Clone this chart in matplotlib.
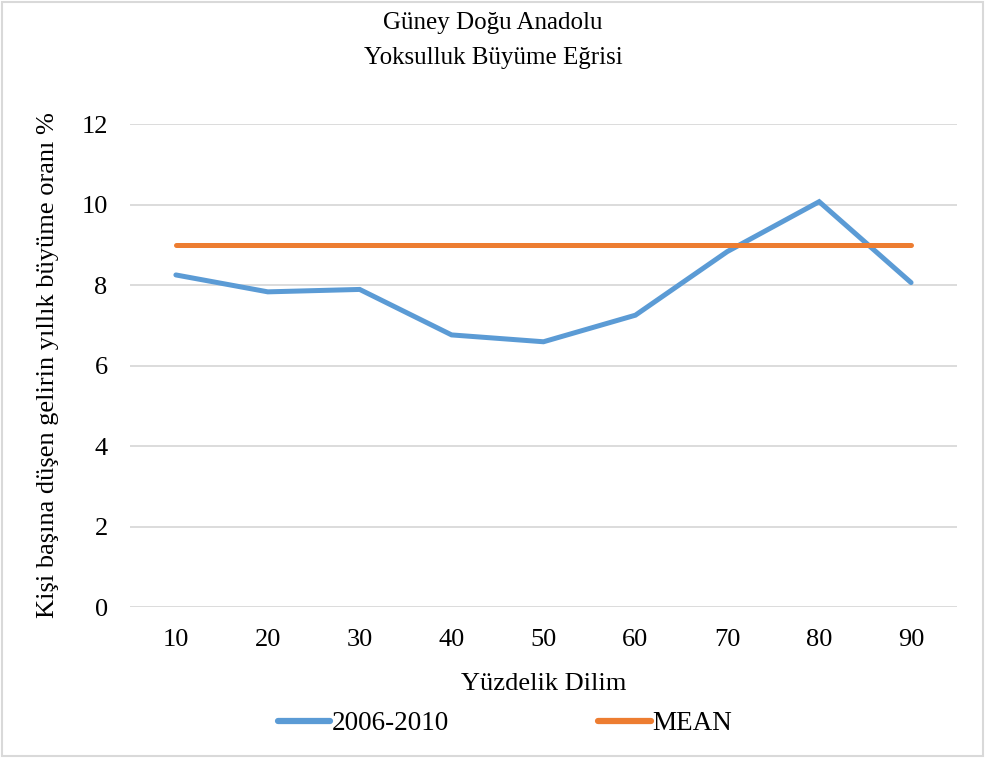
import numpy as np
import matplotlib
matplotlib.use('Agg')
import matplotlib.pyplot as plt
from matplotlib.patches import Rectangle

plt.rcParams['font.family'] = ['Liberation Serif', 'DejaVu Serif']

# veriler
dilim = [10, 20, 30, 40, 50, 60, 70, 80, 90]
buyume = [8.25, 7.83, 7.89, 6.76, 6.59, 7.25, 8.83, 10.07, 8.06]
ortalama = [9.0] * len(dilim)

fig = plt.figure(figsize=(9.86, 7.58), dpi=100)
ax = fig.add_axes([0.1318, 0.1992, 0.8388, 0.6372])

ax.plot(dilim, buyume, color='#5B9BD5', linewidth=3.6, solid_capstyle='round',
        solid_joinstyle='miter', label='2006-2010', zorder=3)
ax.plot(dilim, ortalama, color='#ED7D31', linewidth=3.6, solid_capstyle='round',
        label='MEAN', zorder=3)

ax.set_xlim(5, 95)
ax.set_ylim(0, 12)
ax.set_xticks(dilim)
ax.set_yticks(np.arange(0, 13, 2))
ax.tick_params(axis='both', length=0, labelsize=19, colors='black')
ax.tick_params(axis='x', pad=16)
ax.tick_params(axis='y', pad=16)
ax.grid(axis='y', color='#D9D9D9', linewidth=1.3)
ax.set_axisbelow(True)
for s in ax.spines.values():
    s.set_visible(False)

ax.set_xlabel('Yüzdelik Dilim', fontsize=19, labelpad=16)
ax.set_ylabel('Kişi başına düşen gelirin yıllık büyüme oranı %', fontsize=19, labelpad=16)
fig.text(0.5, 0.984, 'Güney Doğu Anadolu\nYoksulluk Büyüme Eğrisi', ha='center', va='top',
         fontsize=18, linespacing=1.75)

leg = fig.legend(loc='center', bbox_to_anchor=(0.512, 0.045), ncol=2, frameon=False,
                 fontsize=19.5, handlelength=1.95, handletextpad=0.05, columnspacing=5.5)
for h in leg.legend_handles:
    h.set_linewidth(4.5)

# dış çerçeve
fig.patches.append(Rectangle((0.002, 0.003), 0.995, 0.994, transform=fig.transFigure,
                             fill=False, edgecolor='#D9D9D9', linewidth=1.5))

plt.savefig('out.png', dpi=100)
